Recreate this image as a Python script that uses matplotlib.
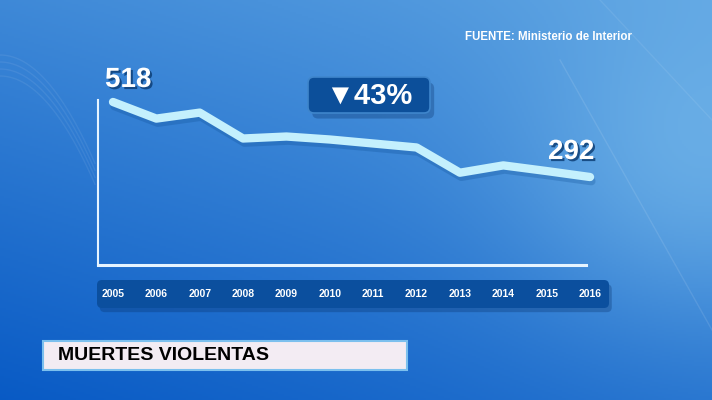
import numpy as np
import matplotlib
matplotlib.use("Agg")
import matplotlib.pyplot as plt
import matplotlib.patheffects as pe
from matplotlib.patches import FancyBboxPatch

years = [2005, 2006, 2007, 2008, 2009, 2010, 2011, 2012, 2013, 2014, 2015, 2016]
deaths = [518, 468, 486, 408, 414, 405, 393, 381, 305, 327, 310, 292]
year_labels = [str(y) for y in years]
change_label = "\u25bc43%"
title = "MUERTES VIOLENTAS"
source = "FUENTE: Ministerio de Interior"

W, H = 712, 400
fig = plt.figure(figsize=(W / 100, H / 100), dpi=100)

# background in pixel coordinates
bg = fig.add_axes([0, 0, 1, 1])
bg.set_xlim(0, W)
bg.set_ylim(H, 0)
bg.axis("off")

xx, yy = np.meshgrid(np.linspace(0, 1, 356), np.linspace(0, 1, 200))
dark = np.array([0x06, 0x58, 0xc4]) / 255
light = np.array([0x8c, 0xcc, 0xf2]) / 255
t = 0.42 + 0.22 * xx - 0.40 * yy
t += 0.25 * np.exp(-((xx - 0.97) ** 2 / 0.06 + (yy - 0.45) ** 2 / 0.15))
t = np.clip(t, 0, 1)[..., None]
img = dark * (1 - t) + light * t
bg.imshow(img, extent=[0, W, H, 0], aspect="auto", zorder=0)

# faint decorative lines
for off in [0, 7, 14, 21]:
    xs = np.linspace(0, 95, 60)
    bg.plot(xs, 55 + off + 0.012 * xs ** 2, color="white", alpha=0.07, lw=1, zorder=1)
bg.plot([560, 712], [60, 330], color="white", alpha=0.10, lw=1, zorder=1)
bg.plot([600, 712], [0, 120], color="white", alpha=0.08, lw=1, zorder=1)

# year bar
bar = FancyBboxPatch((97, 280), 512, 28, boxstyle="round,pad=0,rounding_size=5",
                     fc="#0b4f9e", ec="none", zorder=2,
                     path_effects=[pe.SimplePatchShadow(offset=(2, -3), shadow_rgbFace="#062e66", alpha=0.3), pe.Normal()])
bg.add_patch(bar)

# badge
badge = FancyBboxPatch((308, 77), 122, 36, boxstyle="round,pad=0,rounding_size=6",
                       fc="#0c4f9a", ec="#3f86cc", lw=1.2, zorder=2,
                       path_effects=[pe.SimplePatchShadow(offset=(3, -4), shadow_rgbFace="#062e66", alpha=0.3), pe.Normal()])
bg.add_patch(badge)
bg.text(369, 96, change_label, color="white", fontsize=21, fontweight="bold",
        family=["Liberation Sans", "DejaVu Sans"], ha="center", va="center", zorder=3)

# title box
box = FancyBboxPatch((43, 341), 364, 29, boxstyle="square,pad=0",
                     fc="#f3ecf3", ec="#7cc0ee", lw=1.5, zorder=2)
bg.add_patch(box)
bg.text(58, 356, title, color="black", fontsize=14, fontweight="bold",
        family="Liberation Sans", ha="left", va="center", zorder=3)

bg.text(465, 37, source, color="white", fontsize=8.3, fontweight="bold",
        family="Liberation Sans", ha="left", va="center", zorder=3)

# chart axes: left edge at px 98, right edge at px 600, top px 100, bottom px 265
ax = fig.add_axes([98 / W, 1 - 265 / H, (600 - 98) / W, (265 - 100) / H])
ax.patch.set_alpha(0)
ax.set_xlim(2004.654, 2016.23)
ax.set_ylim(27, 524)
for s in ["top", "right"]:
    ax.spines[s].set_visible(False)
ax.spines["left"].set_color("#e6f4ff")
ax.spines["left"].set_linewidth(1.5)
ax.spines["bottom"].set_color("#e6f4ff")
ax.spines["bottom"].set_linewidth(2.2)
ax.spines["bottom"].set_bounds(2004.654, 2015.9)
ax.set_yticks([])

ax.plot(years, deaths, color="#c4f0fd", lw=6, solid_capstyle="round", solid_joinstyle="round",
        clip_on=False, zorder=3,
        path_effects=[pe.SimpleLineShadow(offset=(1, -3), shadow_color="#0a4a90", alpha=0.25), pe.Normal()])

ax.set_xticks(years)
ax.set_xticklabels(year_labels, color="white", fontsize=7.5, fontweight="bold", family="Liberation Sans")
ax.tick_params(axis="x", length=0, pad=17)

num_fx = [pe.withSimplePatchShadow(offset=(1.5, -1.5), shadow_rgbFace="#0a3a70", alpha=0.8)]
ax.annotate(str(deaths[0]), (years[0], deaths[0]), xytext=(-8, 22), textcoords="offset pixels",
            color="white", fontsize=20, fontweight="bold", family="Liberation Sans", ha="left", va="center",
            annotation_clip=False, path_effects=num_fx)
ax.annotate(str(deaths[-1]), (years[-1], deaths[-1]), xytext=(-42, 25), textcoords="offset pixels",
            color="white", fontsize=20, fontweight="bold", family="Liberation Sans", ha="left", va="center",
            annotation_clip=False, path_effects=num_fx)

fig.savefig("out.png", dpi=100)
